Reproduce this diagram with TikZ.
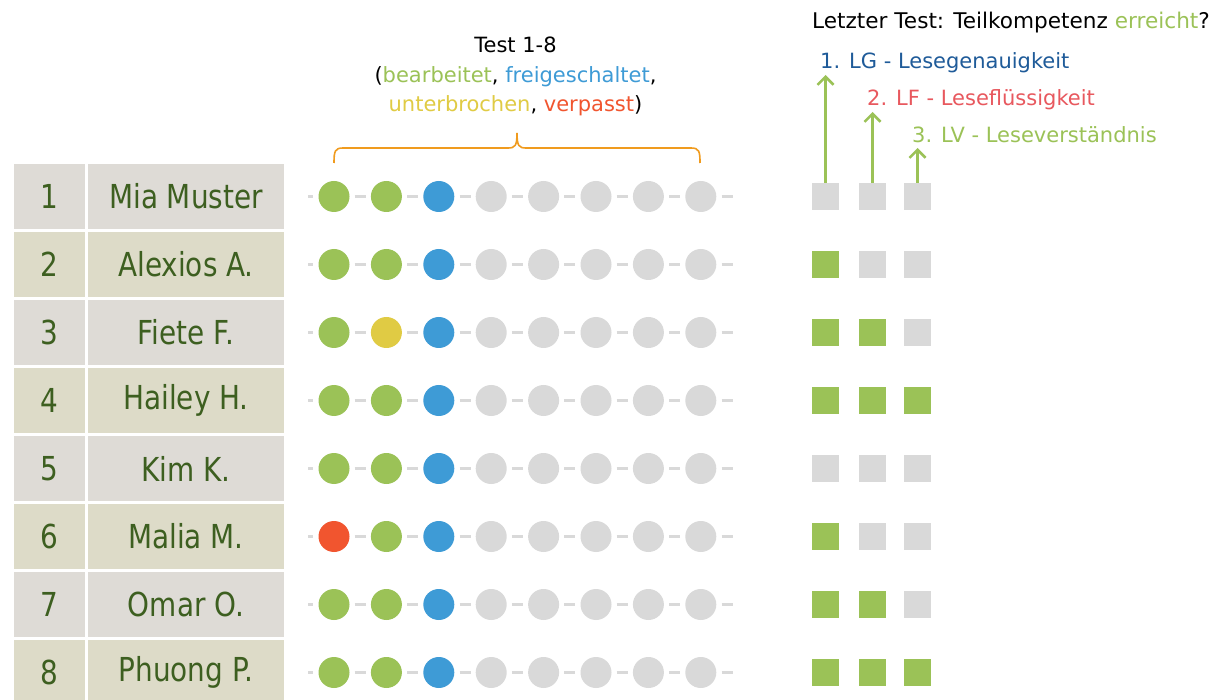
\documentclass[tikz,border=0pt]{standalone}
\usepackage{fontspec}
\setmainfont{DejaVu Sans}
\newfontfamily\bigf{DejaVu Sans}[FakeStretch=0.845]
\usetikzlibrary{arrows.meta}
\definecolor{cG}{RGB}{155,194,87}
\definecolor{cB}{RGB}{62,155,214}
\definecolor{cL}{RGB}{217,217,217}
\definecolor{cY}{RGB}{224,203,68}
\definecolor{cR}{RGB}{241,85,47}
\definecolor{rowA}{RGB}{222,219,214}
\definecolor{rowB}{RGB}{221,219,200}
\definecolor{tgreen}{RGB}{61,95,32}
\definecolor{cLG}{RGB}{31,91,153}
\definecolor{cLF}{RGB}{232,88,94}
\definecolor{cOr}{RGB}{240,155,30}
\begin{document}
\begin{tikzpicture}[x=1pt,y=-1pt,
  cellbase/.style={rectangle, inner sep=0pt, minimum height=65pt, text=tgreen,
    font=\bigf\fontsize{33}{33}\selectfont},
  numcell/.style={cellbase, minimum width=71pt},
  namecell/.style={cellbase, minimum width=196pt},
  dot/.style={circle, minimum size=31pt, inner sep=0pt},
  sq/.style={rectangle, minimum size=27pt, inner sep=0pt},
  dashseg/.style={draw=cL, line width=3pt},
  upar/.style={draw=cG, line width=2.5pt, -{Straight Barb[length=8pt,width=16pt]}},
  small/.style={inner sep=0pt, font=\fontsize{21}{21}\selectfont},
]
\useasboundingbox (0,0) rectangle (1210,700);
\fill[white] (0,0) rectangle (1210,700);

\foreach \r/\nm/\fc/\da/\db/\qa/\qb/\qc in {
1/Mia Muster/rowA/cG/cG/cL/cL/cL,
2/Alexios A./rowB/cG/cG/cG/cL/cL,
3/Fiete F./rowA/cG/cY/cG/cG/cL,
4/Hailey H./rowB/cG/cG/cG/cG/cG,
5/Kim K./rowA/cG/cG/cL/cL/cL,
6/Malia M./rowB/cR/cG/cG/cL/cL,
7/Omar O./rowA/cG/cG/cG/cG/cL,
8/Phuong P./rowB/cG/cG/cG/cG/cG}
{
  \pgfmathsetmacro\yy{196.5+68*(\r-1)}
  \node[numcell, fill=\fc] (n\r) at (49.5,\yy) {\r};
  \node[namecell, fill=\fc] (m\r) at (186,\yy) {\nm};
  \node[dot, fill=\da] (d\r-1) at (334,\yy) {};
  \node[dot, fill=\db] (d\r-2) at (386.4,\yy) {};
  \node[dot, fill=cB] (d\r-3) at (438.8,\yy) {};
  \foreach \k in {4,...,8} \node[dot, fill=cL] (d\r-\k) at ({334+52.4*(\k-1)},\yy) {};
  \coordinate (ls\r) at (308,\yy);
  \coordinate (le\r) at (733,\yy);
  \draw[dashseg, shorten >=5pt] (ls\r) -- (d\r-1.west);
  \foreach \k [evaluate=\k as \kk using int(\k+1)] in {1,...,7}
    \draw[dashseg, shorten <=5pt, shorten >=5pt] (d\r-\k.east) -- (d\r-\kk.west);
  \draw[dashseg, shorten <=5pt] (d\r-8.east) -- (le\r);
  \node[sq, fill=\qa] (q\r-1) at (825.5,\yy) {};
  \node[sq, fill=\qb] (q\r-2) at (872.5,\yy) {};
  \node[sq, fill=\qc] (q\r-3) at (917.5,\yy) {};
}

% arrows to competence labels
\coordinate (a1) at (825.5,75);
\coordinate (a2) at (872.5,112);
\coordinate (a3) at (917.5,148);
\draw[upar] (q1-1.north) -- (a1);
\draw[upar] (q1-2.north) -- (a2);
\draw[upar] (q1-3.north) -- (a3);

\node[small, anchor=base west, font=\fontsize{21.6}{21.6}\selectfont] (hdr) at (812,28.3) {Letzter Test: Teilkompetenz \textcolor{cG}{erreicht}?};
\node[small, anchor=base west, text=cLG] (lg) at (820,69) {1. LG - Lesegenauigkeit};
\node[small, anchor=base west, text=cLF] (lf) at (867,106) {2. LF - Leseflüssigkeit};
\node[small, anchor=base west, text=cG] (lv) at (912,143) {3. LV - Leseverständnis};

\node[small, anchor=base] (t1) at (515.5,52.3) {Test 1-8};
\node[small, anchor=base] (t2) at (515.5,83) {(\textcolor{cG}{bearbeitet}, \textcolor{cB}{freigeschaltet},};
\node[small, anchor=base] (t3) at (515.5,112) {\textcolor{cY}{unterbrochen}, \textcolor{cR}{verpasst})};

% brace
\draw[cOr, line width=1.6pt]
  (334,163) .. controls (334,151) and (335,148) .. (343,148) -- (508,148)
  .. controls (515,148) and (517,146) .. (517,133)
  .. controls (517,146) and (519,148) .. (526,148) -- (691,148)
  .. controls (699,148) and (700,151) .. (700,163);
\end{tikzpicture}
\end{document}
